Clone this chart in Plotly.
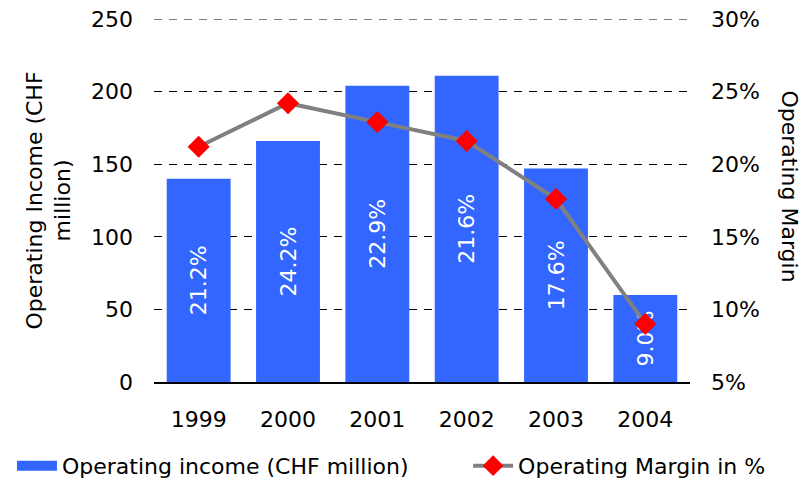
import plotly.graph_objects as go

years = ["1999", "2000", "2001", "2002", "2003", "2004"]
income = [140, 166, 204, 211, 147, 60]
margin = [21.2, 24.2, 22.9, 21.6, 17.6, 9.0]
margin_labels = ["%.1f%%" % m for m in margin]

font_name = "DejaVu Sans"
blue = "#3366FF"
grid_dash = "8px,7px"
y_max = 250

# the page adds an 8px body margin, so the figure is drawn 8px smaller
W, H = 801, 470

bars = go.Bar(
    x=years, y=income,
    name="Operating income (CHF million)",
    showlegend=False,
    marker=dict(color=blue, line=dict(width=0)),
    text=margin_labels,
    textposition="inside",
    insidetextanchor="middle",
    textangle=-90,
    textfont=dict(color="white", size=22, family=font_name),
    hoverinfo="x+y",
)

# legend entry for the bars (wide box like the original)
bar_key = go.Scatter(
    x=[None], y=[None], mode="lines",
    name="Operating income (CHF million)",
    line=dict(color=blue, width=15),
    legend="legend",
)

line = go.Scatter(
    x=years, y=margin,
    name="Operating Margin in %",
    yaxis="y2",
    mode="lines+markers",
    line=dict(color="#808080", width=4),
    marker=dict(symbol="diamond", color="#FF0000", size=17),
    legend="legend2",
)

layout = go.Layout(
    width=W, height=H,
    margin=dict(l=146, r=119, t=11, b=96, autoexpand=False),
    plot_bgcolor="white",
    paper_bgcolor="white",
    font=dict(family=font_name, size=22, color="black"),
    bargap=0.285,
    showlegend=True,
    legend=dict(orientation="h", x=-0.265, xanchor="left", y=-0.231, yanchor="middle",
                font=dict(size=22), itemwidth=40, bgcolor="rgba(0,0,0,0)"),
    legend2=dict(orientation="h", x=0.586, xanchor="left", y=-0.231, yanchor="middle",
                 font=dict(size=22), itemwidth=40, bgcolor="rgba(0,0,0,0)"),
    xaxis=dict(showline=True, linecolor="black", linewidth=1.5, ticks="",
               showgrid=False, ticklabelstandoff=17),
    yaxis=dict(range=[0, y_max], tick0=0, dtick=50,
               showgrid=True, gridcolor="black",
               griddash=grid_dash, gridwidth=1, zeroline=False, ticks="",
               ticklabelstandoff=20, ticklabeloverflow="allow"),
    yaxis2=dict(range=[5, 30], tick0=5, dtick=5,
                overlaying="y", side="right",
                ticksuffix="%", showgrid=False, zeroline=False, ticks="",
                ticklabelstandoff=20, ticklabeloverflow="allow"),
    # plotly drops the grid line at the very top of the range, so draw it
    shapes=[
        dict(type="line", xref="paper", x0=0, x1=1, yref="y", y0=y_max, y1=y_max,
             line=dict(color="black", width=1, dash=grid_dash), layer="below"),
    ],
    annotations=[
        dict(text="Operating Income (CHF<br>million)", xref="paper", yref="paper",
             x=0, xshift=-106, xanchor="center", y=0.5, yanchor="middle",
             textangle=-90, showarrow=False, font=dict(size=22)),
        dict(text="Operating Margin", xref="paper", yref="paper",
             x=1, xshift=99, xanchor="center", y=0.5, yshift=14, yanchor="middle",
             textangle=90, showarrow=False, font=dict(size=22)),
    ],
)

fig = go.Figure(data=[bars, bar_key, line], layout=layout)
fig.write_html("out.html")
